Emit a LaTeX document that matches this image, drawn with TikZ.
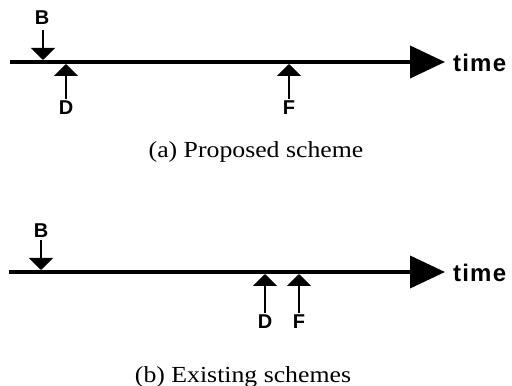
\documentclass[tikz,border=0pt]{standalone}
\usepackage{fontspec}
\setmainfont{Liberation Serif}
\newfontfamily\labelfont{Liberation Sans}
\newfontfamily\axisfont[LetterSpace=5]{Liberation Sans}
\usetikzlibrary{arrows.meta, positioning}

\tikzset{
	timeline/.style={line width=4pt, -{Triangle[width=32pt,length=35pt]}},
	event/.style={line width=2pt, -{Triangle[width=24pt,length=12pt]}},
	evlabel/.style={font=\labelfont\bfseries\fontsize{20}{20}\selectfont, inner sep=2pt},
	axislabel/.style={font=\axisfont\bfseries\fontsize{24}{24}\selectfont, inner sep=0pt},
	caption/.style={font=\fontsize{23}{23}\selectfont, xscale=1.12}
}

\begin{document}
\begin{tikzpicture}[x=1pt, y=1pt]
		\useasboundingbox (0,0) rectangle (512,386);
		%draw upper time axis
		\coordinate (a0) at (10,324);
		\coordinate (a1) at (445,324);
		\draw[timeline] (a0) -- (a1);
		\node[axislabel, anchor=west] (atime) at (453,323) {time};
		%draw events on upper axis
		\node[evlabel] (aB) at (42,368) {B};
		\coordinate (aBt) at (43,326);
		\draw[event] (43,356) -- (aBt);
		\foreach \name/\x in {D/66, F/289}{
			\node[evlabel] (a\name) at (\x,278) {\name};
			\draw[event] (a\name.north) -- (\x,322);
		}
		\node[caption] (acap) at (256,234) {(a) Proposed scheme};
		%draw lower time axis
		\coordinate (b0) at (9,114);
		\coordinate (b1) at (445,114);
		\draw[timeline] (b0) -- (b1);
		\node[axislabel, anchor=west] (btime) at (453,113) {time};
		%draw events on lower axis
		\node[evlabel] (bB) at (41,155) {B};
		\draw[event] (41,146) -- (41,116);
		\foreach \name/\x in {D/265, F/299}{
			\node[evlabel] (b\name) at (\x,64) {\name};
			\draw[event] (b\name.north) -- (\x,112);
		}
		\node[caption] (bcap) at (243,9) {(b) Existing schemes};
\end{tikzpicture}
\end{document}
